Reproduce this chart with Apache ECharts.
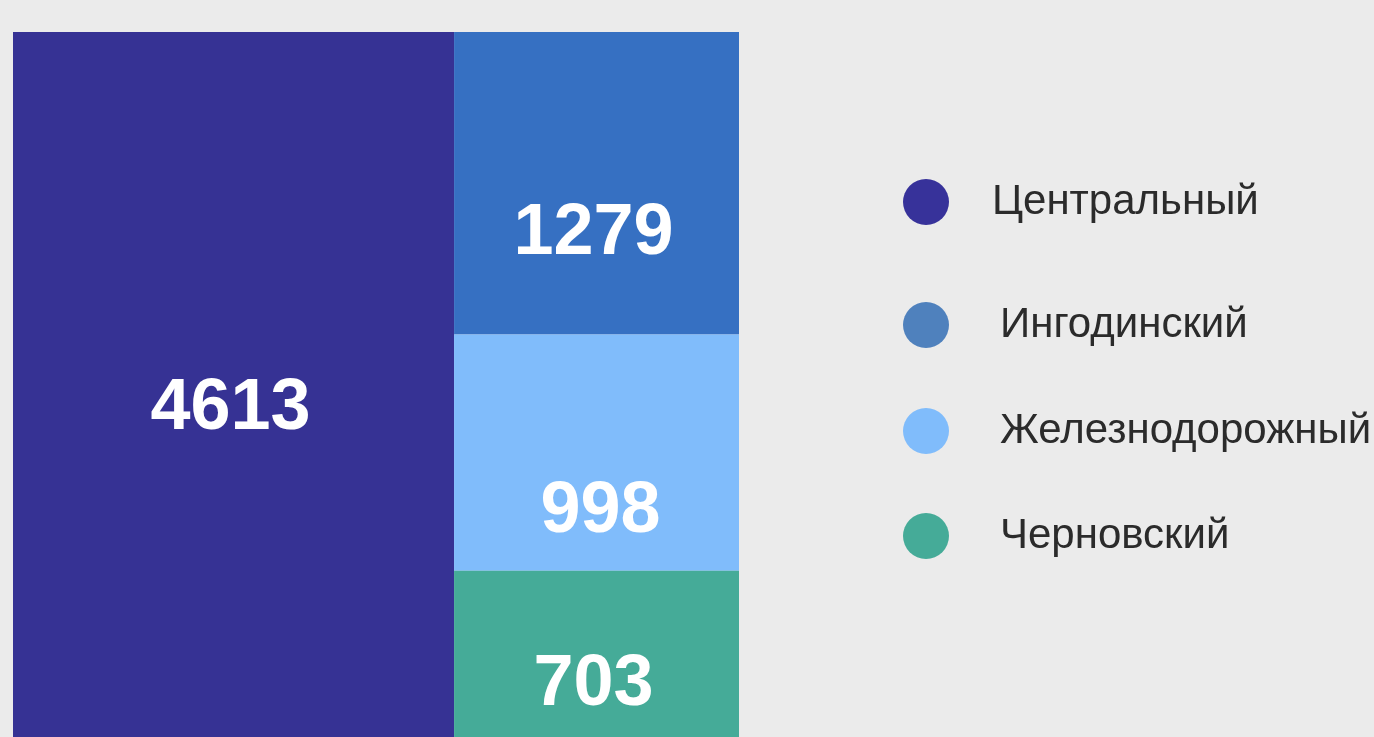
<!DOCTYPE html>
<html>
<head>
<meta charset="utf-8">
<script src="https://cdn.jsdelivr.net/npm/echarts@6/dist/echarts.min.js"></script>
<style>
html,body{margin:0;padding:0;background:#ebebeb;}
#chart{width:1374px;height:737px;}
</style>
</head>
<body>
<div id="chart"></div>
<script>
const districts = ['Центральный', 'Ингодинский', 'Железнодорожный', 'Черновский'];
const counts = [4613, 1279, 998, 703];

const blockColors = ['#363294', '#3670c2', '#80bcfb', '#45ab98'];
const legendColors = ['#37329a', '#4f81bd', '#80bcfb', '#45ab98'];
const labelOffsets = [[-3, 25], [-3, 51], [4, 60], [-3, 31]];
const legendTops = [179, 302, 408, 513];
const legendTextPad = [38, 46, 46, 46];

const chart = echarts.init(document.getElementById('chart'));
const font = '"Liberation Sans", Arial, Helvetica, sans-serif';

const option = {
  backgroundColor: '#ebebeb',
  animation: false,
  xAxis: { show: false, type: 'value' },
  yAxis: { show: false, type: 'value' },
  grid: { show: false, left: 0, top: 0, width: 1, height: 1 },
  legend: districts.map((n, i) => ({
    data: [{ name: n, itemStyle: { color: legendColors[i], opacity: 1 } }],
    left: 903,
    top: legendTops[i],
    padding: 0,
    orient: 'vertical',
    icon: 'circle',
    itemWidth: 46,
    itemHeight: 46,
    selectedMode: false,
    textStyle: {
      fontFamily: font,
      fontSize: 42,
      color: '#2b2b2b',
      padding: [0, 0, 0, legendTextPad[i]]
    }
  })),
  series: [
    {
      type: 'treemap',
      left: 13,
      top: 32,
      width: 726,
      height: 705,
      squareRatio: 1,
      roam: false,
      nodeClick: false,
      breadcrumb: { show: false },
      label: {
        show: true,
        position: 'inside',
        formatter: p => String(p.value),
        color: '#ffffff',
        fontFamily: font,
        fontWeight: 'bold',
        fontSize: 72
      },
      upperLabel: { show: false },
      itemStyle: { borderWidth: 0, gapWidth: 0, borderColor: 'transparent' },
      levels: [{ itemStyle: { borderWidth: 0, gapWidth: 0, borderColor: 'transparent' } }],
      data: districts.map((n, i) => ({
        name: n,
        value: counts[i],
        itemStyle: { color: blockColors[i] },
        label: { offset: labelOffsets[i] }
      }))
    }
  ].concat(districts.map((n, i) => ({
    type: 'scatter',
    name: n,
    data: [],
    itemStyle: { color: legendColors[i], opacity: 1 }
  })))
};
chart.setOption(option);
</script>
</body>
</html>
